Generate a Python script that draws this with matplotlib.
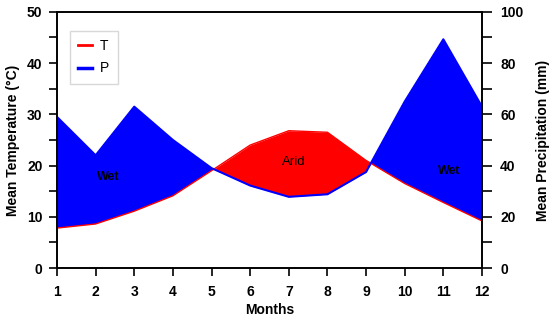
import matplotlib
matplotlib.use("Agg")
import matplotlib.pyplot as plt
import numpy as np

plt.rcParams['font.family'] = ['Liberation Sans', 'DejaVu Sans']

months = [1, 2, 3, 4, 5, 6, 7, 8, 9, 10, 11, 12]
temperature = [7.8, 8.6, 11.1, 14.1, 19.0, 24.0, 26.8, 26.5, 21.0, 16.5, 12.8, 9.2]
precipitation = [59, 44, 63, 50, 39, 32.2, 27.8, 28.8, 37.5, 65, 89.3, 63]

x = np.array(months, dtype=float)
T = np.array(temperature)
P = np.array(precipitation)
Ph = P / 2.0

fig = plt.figure(figsize=(5.5, 3.21), dpi=100)
ax = fig.add_axes([0.1036, 0.165, 0.7727, 0.798])

ax.fill_between(x, T, Ph, where=Ph >= T, interpolate=True, color='#0000ff', lw=0)
ax.fill_between(x, T, Ph, where=Ph < T, interpolate=True, color='#ff0000', lw=0)
lt, = ax.plot(x, T, color='#ff0000', lw=1.0, label='T')
lp, = ax.plot(x, Ph, color='#0000ff', lw=1.5, label='P')

ax.set_xlim(1, 12)
ax.set_ylim(0, 50)
ax.set_xticks(months)
ax.set_yticks([0, 10, 20, 30, 40, 50])
ax.set_yticks([5, 15, 25, 35, 45], minor=True)
ax.tick_params(axis='x', which='major', direction='out', length=6, width=1.2, labelsize=10, pad=6)
ax.tick_params(axis='y', which='major', direction='out', length=5.5, width=1.2, labelsize=10, pad=5)
ax.tick_params(axis='y', which='minor', direction='out', length=5.5, width=1.2)
for lab in ax.get_xticklabels() + ax.get_yticklabels():
    lab.set_fontweight('bold')
for s in ax.spines.values():
    s.set_linewidth(1.2)

ax2 = ax.twinx()
ax2.set_ylim(0, 100)
ax2.set_yticks([0, 20, 40, 60, 80, 100])
ax2.set_yticks([10, 30, 50, 70, 90], minor=True)
ax2.tick_params(axis='y', which='major', direction='out', length=7, width=1.2, labelsize=10, pad=6)
ax2.tick_params(axis='y', which='minor', direction='out', length=7, width=1.2)
for lab in ax2.get_yticklabels():
    lab.set_fontweight('bold')
for s in ax2.spines.values():
    s.set_linewidth(1.2)

ax.set_xlabel('Months', fontsize=10, fontweight='bold', labelpad=3)
ax.set_ylabel('Mean Temperature (°C)', fontsize=10, fontweight='bold', labelpad=5)
ax2.set_ylabel('Mean Precipitation (mm)', fontsize=10, fontweight='bold', labelpad=9)

ax.text(2.32, 17.8, 'Wet', fontsize=9, fontweight='bold', ha='center', va='center')
ax.text(7.13, 20.7, 'Arid', fontsize=9.5, ha='center', va='center')
ax.text(11.14, 18.9, 'Wet', fontsize=9, fontweight='bold', ha='center', va='center')

leg = ax.legend(handles=[lt, lp], loc='upper left', bbox_to_anchor=(0.031, 0.926),
                borderaxespad=0, fontsize=10, frameon=True, fancybox=False,
                edgecolor='#d8d8d8', framealpha=1, handlelength=1.0, handletextpad=0.55,
                borderpad=0.6, labelspacing=0.6)
leg.get_frame().set_linewidth(1.0)
leg.legend_handles[0].set_linewidth(2)
leg.legend_handles[1].set_linewidth(2.5)

fig.savefig('out.png', dpi=100)
